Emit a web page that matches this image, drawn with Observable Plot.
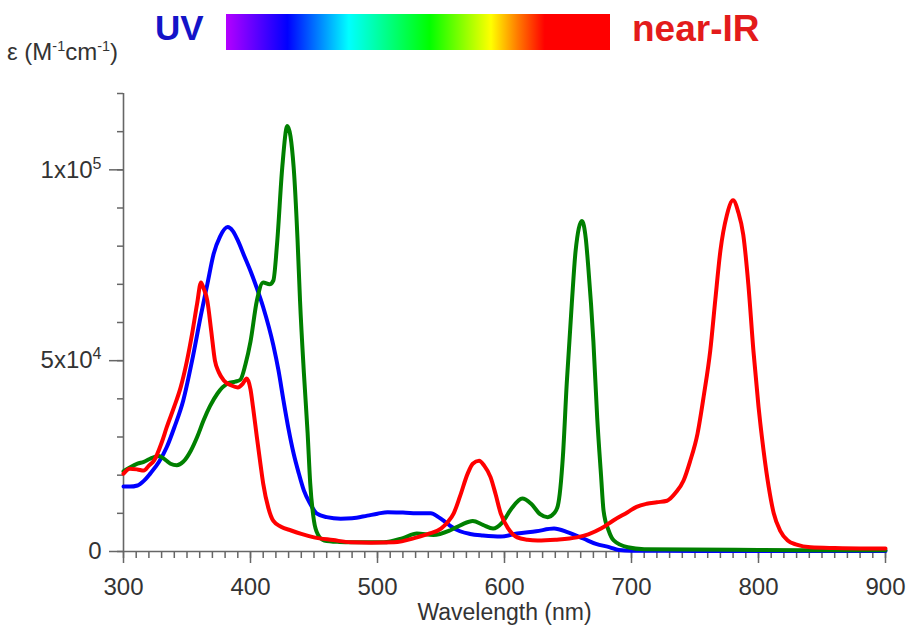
<!DOCTYPE html>
<html><head><meta charset="utf-8">
<script src="https://cdn.jsdelivr.net/npm/d3@7"></script>
<script src="https://cdn.jsdelivr.net/npm/@observablehq/plot@0.6"></script>
<style>
html,body{margin:0;padding:0;background:#fff;}
#wrap{position:relative;width:909px;height:630px;font-family:"Liberation Sans",Arial,sans-serif;overflow:hidden;}
#head{position:relative;width:909px;height:80px;}
#ylab{position:absolute;left:7px;top:40px;font-size:24px;line-height:1;color:#333;white-space:nowrap;}
#ylab sup{font-size:0.6em;vertical-align:0.6em;line-height:0;}
#uv{position:absolute;left:155px;top:10px;font-size:35px;font-weight:bold;line-height:1;color:#1414c8;}
#nir{position:absolute;left:632px;top:10px;font-size:37px;font-weight:bold;line-height:1;color:#e31b1b;}
#bar{position:absolute;left:226px;top:14px;width:384px;height:36px;
  background:linear-gradient(to right,#b400ff 0%,#0000ff 16%,#00ffff 32%,#00ff00 53%,#ffff00 69%,#ff7a00 76%,#ff0000 83%,#ff0000 100%);}
#chart svg{display:block;}
</style></head><body>
<div id="wrap">
  <div id="head">
    <div id="ylab">ε (M<sup>-1</sup>cm<sup>-1</sup>)</div>
    <div id="uv">UV</div>
    <div id="bar"></div>
    <div id="nir">near-IR</div>
  </div>
  <div id="chart"></div>
</div>
<script>
// ---- data (wavelength in nm, extinction coefficient in M^-1 cm^-1) ----
const seriesNames = ["blue", "green", "red"];
const seriesColors = ["#1212dc", "#1f8c1f", "#e81818"];

const blueNm  = [300,305,311,316,321,328,334,340,347,354,361,366,371,376,382,386,390,395,400,405,410,418,422,426,430,434,438,442,447,452,460,471,480,492,500,508,520,534,542,548,552,557,565,573,583,597,610,625,639,650,662,672,683,690,700,750,800,850,900];
const blueEps = [17000,17000,17300,18500,20400,23500,27300,32500,39500,50000,62000,70000,78000,82500,85000,84000,81500,77500,73500,69000,64000,54000,47500,39500,32000,25600,20500,16000,12500,10000,9000,8600,8700,9400,9900,10300,10200,10000,10000,9000,8100,6800,5300,4600,4200,3900,4700,5300,6000,5000,3400,2000,1100,400,200,150,100,100,100];

const greenNm  = [300,305,311,316,321,328,333,337,342,347,353,358,363,368,374,382,388,392,396,400,405,410,415,418,421,425,429,434,437,439,442,445,447,450,453,458,470,479,505,520,531,544,557,566,575,583,591,598,605,614,621,628,634,639,642,646,649,653,656,661,664,666,670,673,676,678,682,686,697,710,800,900];
const greenEps = [21000,22000,23000,23500,24300,25000,24000,23000,22600,23500,26400,30000,34300,38000,41400,44000,44500,45000,49000,55000,65700,70500,70000,71000,81000,100600,111500,100600,82000,65700,47000,30900,18000,8000,4500,2900,2500,2400,2400,3500,4700,4300,5500,7000,8000,7000,6000,7500,11000,13900,12500,9800,9000,10000,12000,25000,44000,65000,78800,86600,82000,74400,55000,35000,20000,10700,5500,2900,1100,600,400,300];

const redNm  = [300,305,311,316,320,324,330,334,340,345,350,354,358,361,363,366,369,372,375,379,385,390,394,397,400,402,405,408,410,414,418,424,432,440,450,465,479,495,513,531,540,550,556,560,565,571,575,580,584,589,593,597,603,610,618,626,640,657,666,676,686,697,704,712,720,728,735,741,746,752,757,762,766,770,775,780,784,788,792,796,800,804,808,812,817,823,830,841,860,880,900];
const redEps = [20400,21700,21500,21200,22500,23800,28500,32500,38000,43000,50000,57000,65000,70500,69000,65700,58000,50000,47000,44800,43500,43000,44000,45300,42500,37800,30000,22500,17800,11500,8000,6500,5500,4600,3700,3000,2400,2300,2400,3700,4600,6000,8000,10000,14500,20400,23000,23800,22500,19500,15000,10000,6000,3700,3100,2900,3100,3700,4500,6000,8200,10300,11700,12500,12900,13300,15500,18600,23500,30900,41000,52600,66000,78800,88000,92000,89000,83000,70000,52600,38000,26400,17000,10000,5500,2900,1800,1100,900,800,800];

const xMajorTicks = [300,400,500,600,700,800,900];
const xMinorTicks = d3.range(300, 901, 10);
const yMajorTicks = [0, 50000, 100000];
const yMinorTicks = d3.range(0, 120001, 10000);

// ---- build table ----
const seriesData = {blue: [blueNm, blueEps], green: [greenNm, greenEps], red: [redNm, redEps]};
const table = [];
for (const s of seriesNames) {
  const [xs, ys] = seriesData[s];
  xs.forEach((x, i) => table.push({series: s, wl: x, eps: ys[i]}));
}

const fmtY = d => {
  if (d === 0) return "0";
  const e = Math.floor(Math.log10(d));
  return `${Math.round(d / Math.pow(10, e))}x10^${e}`;
};

const axisStroke = "#666";
const chart = Plot.plot({
  width: 909, height: 550,
  marginTop: 13, marginRight: 24, marginBottom: 79, marginLeft: 123,
  style: {background: "white", fontFamily: "'Liberation Sans', Arial, sans-serif", fontSize: "24px", color: "#333", overflow: "visible"},
  x: {domain: [300, 900]},
  y: {domain: [0, 120000]},
  color: {domain: seriesNames, range: seriesColors},
  marks: [
    Plot.axisX(xMinorTicks, {tickSize: 7, tickFormat: () => "", label: null, stroke: axisStroke, strokeWidth: 1.5}),
    Plot.axisX(xMajorTicks, {tickSize: 12, tickPadding: 14, tickFormat: d => String(d), fill: "#333", stroke: axisStroke, strokeWidth: 1.5,
      label: "Wavelength (nm)", labelAnchor: "center", labelArrow: "none", labelOffset: 68}),
    Plot.axisY(yMinorTicks, {tickSize: 6, tickFormat: () => "", label: null, stroke: axisStroke, strokeWidth: 1.5}),
    Plot.axisY(yMajorTicks, {tickSize: 14, tickPadding: 8, tickFormat: fmtY, label: null, fill: "#333", stroke: axisStroke, strokeWidth: 1.5}),
    Plot.ruleX([300], {stroke: axisStroke, strokeWidth: 1.6}),
    Plot.ruleY([0], {stroke: axisStroke, strokeWidth: 1.6}),
    Plot.line(table, {x: "wl", y: "eps", z: "series", stroke: "series", strokeWidth: 4, curve: "monotone-x", strokeLinejoin: "round"})
  ]
});
document.getElementById("chart").appendChild(chart);

// superscript exponents on y tick labels
chart.querySelectorAll('g[aria-label="y-axis tick label"] text').forEach(t => {
  const s = t.textContent;
  if (s.includes("^")) {
    const [base, exp] = s.split("^");
    t.textContent = "";
    const b = document.createElementNS("http://www.w3.org/2000/svg", "tspan");
    b.textContent = base;
    const e = document.createElementNS("http://www.w3.org/2000/svg", "tspan");
    e.textContent = exp;
    e.setAttribute("font-size", "16");
    e.setAttribute("dy", "-9");
    t.appendChild(b); t.appendChild(e);
  }
});
chart.querySelectorAll('g[aria-label="x-axis label"]').forEach(g => g.setAttribute("font-size", "23"));
chart.querySelectorAll('g[aria-label="x-axis label"] text').forEach(t => t.setAttribute("font-size", "23"));
</script>
</body></html>
